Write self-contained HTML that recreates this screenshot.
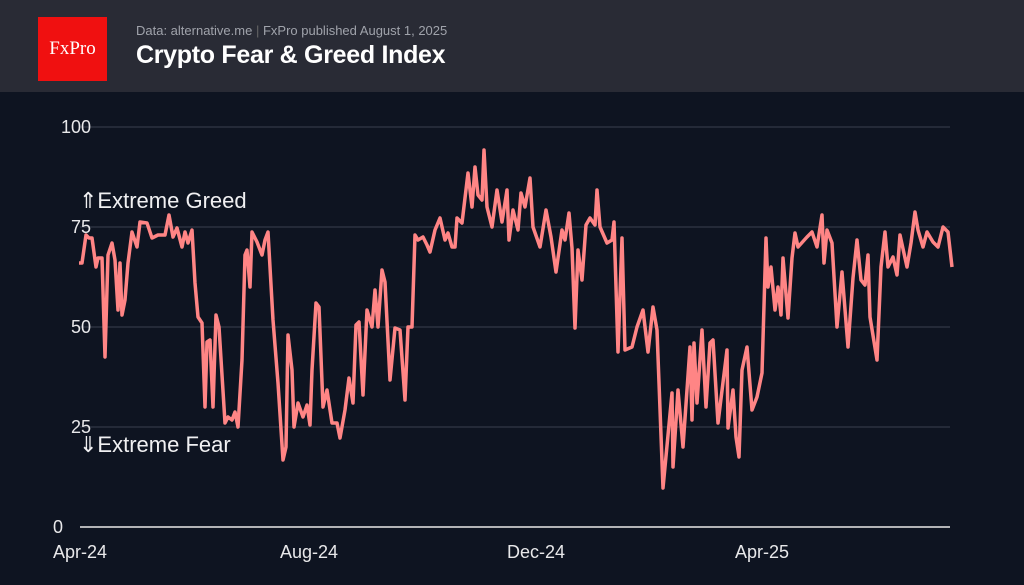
<!DOCTYPE html>
<html><head><meta charset="utf-8"><style>
body{margin:0;width:1024px;height:585px;background:#0e1421;font-family:"Liberation Sans",sans-serif;overflow:hidden}
.hdr{position:absolute;left:0;top:0;width:1024px;height:92px;background:#292b35}
.logo{position:absolute;left:38px;top:17px;width:69px;height:64px;background:#f01010;color:#fff;font-family:"Liberation Serif",serif;font-size:19px;text-align:center;line-height:64px}
.sub{position:absolute;left:136px;top:23px;color:#a0a3ab;font-size:13px}
.ttl{position:absolute;left:136px;top:41px;color:#fff;font-size:25px;font-weight:bold;letter-spacing:-0.3px}
</style></head><body>
<div class="hdr"><div class="logo">FxPro</div>
<div class="sub">Data: alternative.me <span style="color:#666">|</span> FxPro published August 1, 2025</div>
<div class="ttl">Crypto Fear &amp; Greed Index</div></div>
<svg width="1024" height="585" style="position:absolute;left:0;top:0">
<g stroke="#2c3240" stroke-width="1.5">
<line x1="80" y1="127" x2="950" y2="127"/><line x1="80" y1="227" x2="950" y2="227"/><line x1="80" y1="327" x2="950" y2="327"/><line x1="80" y1="427" x2="950" y2="427"/></g>
<line x1="80" y1="527" x2="950" y2="527" stroke="#e8e8e8" stroke-width="1.5"/>
<g fill="#e8e8ea" font-size="18" text-anchor="end">
<text x="91" y="133">100</text><text x="91" y="233">75</text><text x="91" y="333">50</text><text x="91" y="433">25</text><text x="63" y="533">0</text></g>
<g fill="#e8e8ea" font-size="18" text-anchor="middle">
<text x="80" y="558">Apr-24</text><text x="309" y="558">Aug-24</text><text x="536" y="558">Dec-24</text><text x="762" y="558">Apr-25</text></g>
<g fill="#f0f0f2" font-size="22"><text x="79" y="208">⇑Extreme Greed</text><text x="79" y="452">⇓Extreme Fear</text></g>
<polyline fill="none" stroke="#ff8585" stroke-width="3.5" stroke-linejoin="round" points="79,263 82,263 86,235 89,238 92,238 96,267 98,258 102,258 105,357 108,255 112,243 115,260 118,310 120,263 122,315 125,300 128,263 132,232 137,247 140,222 147,223 152,238 158,235 165,235 169,215 173,237 177,228 182,247 185,232 188,243 192,230 195,283 198,317 202,323 205,407 207,342 210,340 213,407 216,315 219,327 225,423 228,417 232,420 235,412 238,427 242,360 245,255 247,250 250,287 252,232 257,242 262,255 265,240 268,232 273,320 278,383 283,460 286,447 288,335 292,370 294,427 298,403 303,417 307,405 310,425 312,370 316,303 319,307 323,407 327,390 332,423 337,423 340,438 345,410 349,378 353,403 356,325 359,322 363,395 367,310 372,327 375,290 378,327 382,270 385,282 390,380 395,328 400,330 405,400 408,327 412,327 415,235 418,240 423,237 427,245 430,252 435,230 440,218 445,240 448,233 452,247 455,247 457,218 462,223 468,173 472,207 475,167 478,195 482,200 484,150 487,207 492,227 497,190 502,222 507,190 509,240 513,210 518,230 521,193 525,207 530,178 533,227 540,247 546,210 551,237 556,272 562,230 565,240 569,213 572,248 575,328 578,250 582,280 586,225 590,218 595,225 597,190 600,227 607,243 612,240 614,222 618,352 622,238 625,350 632,347 637,327 643,310 648,352 653,307 657,330 663,488 672,393 673,467 678,390 683,447 690,347 692,420 694,343 697,403 702,330 706,407 710,343 713,340 718,423 727,350 728,428 733,390 736,437 739,457 742,370 747,347 752,410 757,397 762,373 766,238 768,287 771,267 775,310 778,287 781,315 783,258 788,318 792,258 795,233 798,247 807,237 812,232 817,247 822,215 824,263 827,230 832,243 837,327 842,272 848,347 853,278 857,240 861,280 865,285 868,255 870,317 877,360 881,267 885,232 888,267 893,257 897,275 900,235 907,267 911,243 915,212 918,230 923,247 927,232 933,242 938,247 943,227 948,232 952,267"/>
</svg>
</body></html>
